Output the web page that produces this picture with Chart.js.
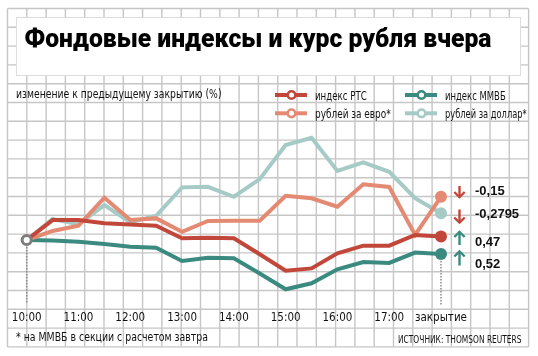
<!DOCTYPE html>
<html><head><meta charset="utf-8">
<script src="https://cdn.jsdelivr.net/npm/chart.js@4"></script>
<style>html,body{margin:0;padding:0;background:#fff;} canvas{display:block;}</style>
</head><body>
<canvas id="c" width="538" height="356"></canvas>
<script>
// ---- data (values in grid units of change vs. previous close) ----
const categories = ['10:00','10:30','11:00','11:30','12:00','12:30','13:00','13:30','14:00','14:30','15:00','15:30','16:00','16:30','17:00','17:30','закрытие'];
const tickLabels = ['10:00','','11:00','','12:00','','13:00','','14:00','','15:00','','16:00','','17:00','','закрытие'];
const rtsValues   = [0, 1.06, 1.06, 0.89, 0.83, 0.76, 0.09, 0.12, 0.09, -0.76, -1.63, -1.51, -0.71, -0.30, -0.30, 0.27, 0.18];
const micexValues = [0, -0.03, -0.09, -0.21, -0.36, -0.41, -1.12, -0.94, -0.97, -1.78, -2.62, -2.30, -1.56, -1.17, -1.22, -0.67, -0.75];
const euroValues  = [0, 0.48, 0.76, 2.25, 1.06, 1.15, 0.44, 1.01, 1.03, 1.03, 2.35, 2.22, 1.77, 2.96, 2.82, 0.27, 2.30];
const usdValues   = [0, 1.12, 0.83, 1.86, 0.94, 1.29, 2.80, 2.83, 2.30, 3.24, 5.05, 5.44, 3.67, 4.13, 3.63, 2.22, 1.42];
const seriesNames = ['индекс РТС', 'индекс ММВБ', 'рублей за евро*', 'рублей за доллар*'];
const closeLabels = ['-0,15', '-0,2795', '0,47', '0,52'];
const closeDirections = ['down', 'down', 'up', 'up'];
const titleText = 'Фондовые индексы и курс рубля вчера';
const subtitleText = 'изменение к предыдущему закрытию (%)';
const footnoteText = '* на ММВБ в секции с расчетом завтра';
const sourceText = 'ИСТОЧНИК: THOMSON REUTERS';

// ---- styling ----
const COL = { rts: '#c2473b', micex: '#3b8a80', euro: '#e48a73', usd: '#a6cbc6', ring: '#7d7d7d', grid: '#c6c6c6' };
const NARROW = '"Liberation Sans Narrow","DejaVu Sans Condensed","Arial Narrow","Liberation Sans",sans-serif';
const ZERO_Y = 240, PX_UNIT = 18.8, TOP = 120, BOTTOM = 305;

function fitText(ctx, text, x, y, font, color, width) {
  ctx.save();
  ctx.font = font; ctx.fillStyle = color; ctx.textBaseline = 'alphabetic'; ctx.textAlign = 'left';
  const w = ctx.measureText(text).width;
  const s = width ? width / w : 1;
  ctx.translate(x, y); ctx.scale(s, 1);
  ctx.fillText(text, 0, 0);
  ctx.restore();
}

const backgroundPlugin = {
  id: 'bg',
  beforeDraw(chart) {
    const ctx = chart.ctx;
    ctx.save();
    ctx.fillStyle = '#fff'; ctx.fillRect(0, 0, chart.width, chart.height);
    const GX0 = 7.5, GDX = 19.3, GNX = 27, GY0 = 8.5, GDY = 18.8, GNY = 18;
    ctx.strokeStyle = COL.grid; ctx.lineWidth = 1.4;
    ctx.beginPath();
    for (let i = 0; i <= GNX; i++) { const x = GX0 + i * GDX; ctx.moveTo(x, GY0); ctx.lineTo(x, GY0 + GNY * GDY); }
    for (let j = 0; j <= GNY; j++) { const y = GY0 + j * GDY; ctx.moveTo(GX0, y); ctx.lineTo(GX0 + GNX * GDX, y); }
    ctx.stroke();
    // title box
    ctx.fillStyle = '#fff'; ctx.fillRect(17, 18, 503, 57);
    ctx.strokeStyle = '#dcdcdc'; ctx.lineWidth = 1; ctx.strokeRect(16.5, 17.5, 504, 58);
    ctx.restore();
  },
  beforeDatasetsDraw(chart) {
    const ctx = chart.ctx, xs = chart.scales.x;
    const x0 = xs.getPixelForValue(0), x1 = xs.getPixelForValue(categories.length - 1);
    ctx.save();
    ctx.strokeStyle = '#8a8a8a'; ctx.lineWidth = 1.5; ctx.setLineDash([1.5, 1.5]);
    ctx.beginPath();
    ctx.moveTo(x0, 247); ctx.lineTo(x0, 304);
    ctx.moveTo(x1, 261); ctx.lineTo(x1, 306);
    ctx.stroke();
    ctx.restore();
  },
  afterDraw(chart) {
    const ctx = chart.ctx;
    // title & texts
    fitText(ctx, titleText, 24.5, 46.7, '900 26px Roboto, "Liberation Sans", sans-serif', '#000', 467);
    fitText(ctx, subtitleText, 16, 98.3, '12.5px ' + NARROW, '#111', 205.5);
    fitText(ctx, footnoteText, 16, 341, '11.5px ' + NARROW, '#111', 192);
    fitText(ctx, sourceText, 398, 342.5, '10.5px ' + NARROW, '#111', 123.5);
    // legend
    const legCols = [COL.rts, COL.micex, COL.euro, COL.usd];
    const legPos = [[275, 95], [405, 95], [275, 113.3], [405, 113.3]];
    const legW = [51.7, 60.7, 75.7, 81.7];
    seriesNames.forEach((name, i) => {
      const [x, y] = legPos[i];
      ctx.save();
      ctx.strokeStyle = legCols[i]; ctx.lineWidth = 4;
      ctx.beginPath(); ctx.moveTo(x, y); ctx.lineTo(x + 32, y); ctx.stroke();
      ctx.fillStyle = '#fff'; ctx.lineWidth = 2.6;
      ctx.beginPath(); ctx.arc(x + 16.5, y, 3.8, 0, Math.PI * 2); ctx.fill(); ctx.stroke();
      ctx.restore();
      fitText(ctx, name, x + 40, y + 4.8, '12px ' + NARROW, '#111', legW[i]);
    });
    // close arrows & labels
    const arrowBoxes = [[186, 197.5], [209.5, 223], [231.5, 245], [251, 265.5]];
    const labelBase = [195, 218.3, 245.5, 268];
    closeLabels.forEach((txt, i) => {
      const [t, b] = arrowBoxes[i];
      const cx = 459.5, down = closeDirections[i] === 'down';
      ctx.save();
      ctx.strokeStyle = down ? COL.rts : COL.micex; ctx.lineWidth = 2.4; ctx.lineCap = 'butt'; ctx.lineJoin = 'miter';
      ctx.beginPath(); ctx.moveTo(cx, t); ctx.lineTo(cx, b); ctx.stroke();
      ctx.beginPath();
      if (down) { ctx.moveTo(cx - 5.2, b - 5.5); ctx.lineTo(cx, b - 0.5); ctx.lineTo(cx + 5.2, b - 5.5); }
      else { ctx.moveTo(cx - 5.2, t + 5.5); ctx.lineTo(cx, t + 0.5); ctx.lineTo(cx + 5.2, t + 5.5); }
      ctx.stroke();
      ctx.restore();
      fitText(ctx, txt, 475, labelBase[i], 'bold 13px "Liberation Sans", Arial, sans-serif', '#111', null);
    });
  }
};

function lineDs(label, data, color) {
  const last = data.length - 1;
  return {
    label, data, borderColor: color, backgroundColor: color, borderWidth: 4, tension: 0, fill: false, clip: false,
    pointRadius: data.map((v, i) => i === last ? 6 : 0), pointHoverRadius: 0,
    pointBackgroundColor: color, pointBorderWidth: 0
  };
}
const startPoint = categories.map((c, i) => i === 0 ? 0 : null);

new Chart(document.getElementById('c'), {
  type: 'line',
  data: {
    labels: categories,
    datasets: [
      { label: 'start', data: startPoint, showLine: false, pointRadius: 4.6, pointBorderWidth: 3,
        pointBorderColor: COL.ring, pointBackgroundColor: '#fff', clip: false },
      lineDs(seriesNames[0], rtsValues, COL.rts),
      lineDs(seriesNames[2], euroValues, COL.euro),
      lineDs(seriesNames[3], usdValues, COL.usd),
      lineDs(seriesNames[1], micexValues, COL.micex)
    ]
  },
  options: {
    responsive: false, animation: false, devicePixelRatio: 1,
    layout: { padding: { left: 26.7, right: 97, top: TOP, bottom: 0 } },
    plugins: { legend: { display: false }, tooltip: { enabled: false } },
    scales: {
      x: {
        type: 'category', offset: false,
        grid: { display: false, drawTicks: false }, border: { display: false },
        ticks: { autoSkip: false, maxRotation: 0, minRotation: 0, padding: 6, color: '#111',
          font: { family: NARROW, size: 11.5 }, callback: (v, i) => tickLabels[i] },
        afterFit: (s) => { s.height = 356 - BOTTOM; }
      },
      y: { display: false, min: -(BOTTOM - ZERO_Y) / PX_UNIT, max: (ZERO_Y - TOP) / PX_UNIT }
    }
  },
  plugins: [backgroundPlugin]
});
</script>
</body></html>
